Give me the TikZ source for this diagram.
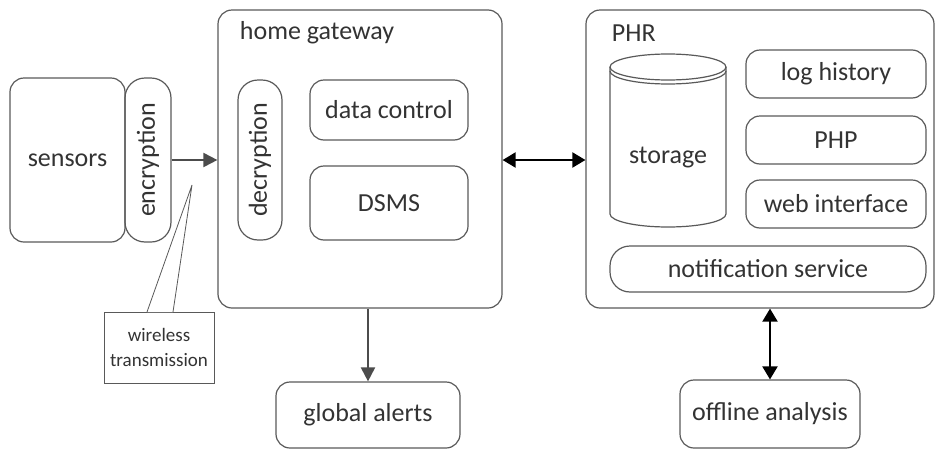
\documentclass[tikz,border=0pt]{standalone}
\usepackage{fontspec}
\setmainfont{Carlito}
\usetikzlibrary{arrows.meta,positioning}

\begin{document}
\begin{tikzpicture}[
    x = 1pt, y = -1pt, % pixel-like units, y going down
    line width = 1.2pt, % line style
    font = \fontsize{26}{30}\selectfont,
    text = black!80
    ]

    \tikzset{box/.style={
    draw = black!65,
    rounded corners = 14pt,
    align = center,
    inner sep = 0pt
    }}
    \tikzset{arr/.style={-{Triangle[length=14pt,width=14pt]}, draw = black!70, line width = 2pt}}
    \tikzset{dblarr/.style={{Triangle[length=13pt,width=15pt]}-{Triangle[length=13pt,width=15pt]}, draw = black, line width = 2pt}}

    \useasboundingbox (0,0) rectangle (943,453);

    % left part
    \node[box, minimum width=115pt, minimum height=164pt] (sensors) at (67.5,160) {sensors};
    \node[box, rounded corners=20pt, rotate=90, minimum width=164pt, minimum height=46pt] (encryption) at (148,160) {encryption};

    % home gateway
    \node[box, minimum width=284pt, minimum height=298pt] (gateway) at (360,159) {};
    \node[anchor=west] (gwlabel) at (236,33) {home gateway};
    \node[box, rounded corners=20pt, rotate=90, minimum width=160pt, minimum height=44pt] (decryption) at (260,160) {decryption};
    \node[box, minimum width=158pt, minimum height=60pt] (datacontrol) at (389,110) {data control};
    \node[box, minimum width=158pt, minimum height=74pt] (dsms) at (389,203) {DSMS};

    % PHR
    \node[box, minimum width=348pt, minimum height=298pt] (phr) at (760,159) {};
    \node[anchor=west] (phrlabel) at (608,33) {PHR};
    \draw[draw=black!65] (610,67) -- (610,214) arc[start angle=180, end angle=0, x radius=58, y radius=13]
        -- (726,67);
    \draw[draw=black!65] (668,67) ellipse[x radius=58, y radius=13];
    \draw[draw=black!65] (610,71) arc[start angle=180, end angle=0, x radius=58, y radius=13];
    \node (storage) at (668,158) {storage};
    \node[box, minimum width=180pt, minimum height=48pt] (loghistory) at (836,74) {log history};
    \node[box, minimum width=180pt, minimum height=48pt] (php) at (836,140) {PHP};
    \node[box, minimum width=180pt, minimum height=48pt] (webinterface) at (836,204) {web interface};
    \node[box, rounded corners=20pt, minimum width=316pt, minimum height=46pt] (notification) at (768,269) {notification service};

    % bottom
    \node[box, minimum width=184pt, minimum height=66pt] (alerts) at (368,415) {global alerts};
    \node[box, minimum width=180pt, minimum height=68pt] (offline) at (770,414) {offline analysis};

    % callout
    \node[draw=black!65, line width=0.8pt, minimum width=110pt, minimum height=71pt,
        inner sep=0pt, align=center, font=\fontsize{19}{25}\selectfont] (wireless) at (159,347.5) {wireless\\transmission};
    \coordinate (tip) at (192,185);
    \coordinate (cl) at (147,312);
    \coordinate (cr) at (173,312);
    \fill[white] (cl) -- (tip) -- (cr) -- cycle;
    \draw[draw=black!65, line width=0.8pt] (cl) -- (tip) -- (cr);

    % connectors
    \draw[arr] (encryption.south) -- (gateway.west |- encryption.south);
    \draw[dblarr] (gateway.east |- 0,160) -- (phr.west |- 0,160);
    \draw[arr] (gateway.south -| alerts.north) -- (alerts.north);
    \draw[dblarr] (phr.south -| offline.north) -- (offline.north);
\end{tikzpicture}
\end{document}
